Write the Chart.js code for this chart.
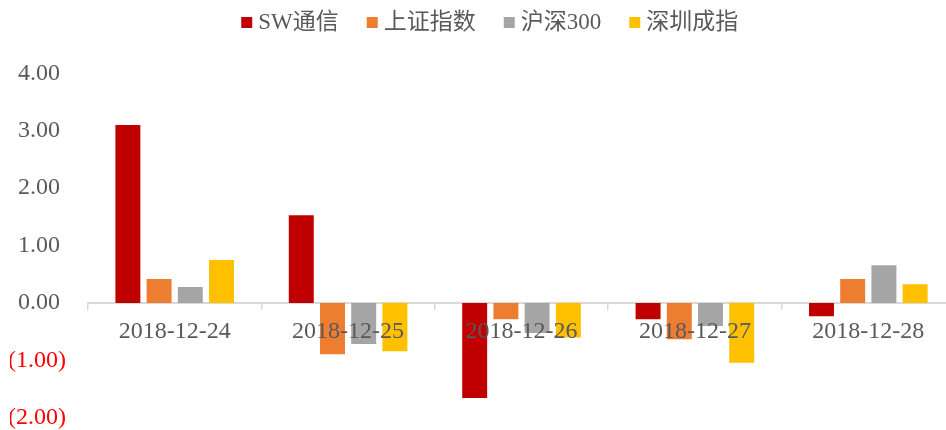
<!DOCTYPE html>
<html>
<head>
<meta charset="utf-8">
<script src="https://cdn.jsdelivr.net/npm/chart.js@4/dist/chart.umd.min.js"></script>
<style>
  html, body { margin: 0; padding: 0; background: #ffffff; overflow: hidden; width: 946px; height: 430px; }
  canvas { display: block; }
</style>
</head>
<body>
<canvas id="c" width="955" height="430"></canvas>
<script>
const categories = ['2018-12-24', '2018-12-25', '2018-12-26', '2018-12-27', '2018-12-28'];
const seriesNames = ['SW通信', '上证指数', '沪深300', '深圳成指'];
const swTongxin = [3.10, 1.53, -1.65, -0.28, -0.23];
const shangzheng = [0.42, -0.89, -0.28, -0.63, 0.42];
const hushen300 = [0.28, -0.71, -0.52, -0.40, 0.66];
const shenzhen = [0.75, -0.84, -0.60, -1.04, 0.33];
const yMin = -2, yMax = 4, yStep = 1;

const colors = ['#C00000', '#ED7D31', '#A5A5A5', '#FFC000'];
const serifFont = "'Liberation Serif', 'Times New Roman', 'Noto Sans CJK SC', serif";

const seriesValues = [swTongxin, shangzheng, hushen300, shenzhen];
const datasets = seriesNames.map((name, i) => ({
  label: name,
  data: seriesValues[i],
  backgroundColor: colors[i],
  borderWidth: 0,
  categoryPercentage: 0.72,
  barPercentage: 0.8
}));

const legendShift = {
  id: 'legendShift',
  afterLayout(chart) {
    if (chart.legend) { chart.legend.left += 10; chart.legend.right += 10; }
  }
};

new Chart(document.getElementById('c'), {
  type: 'bar',
  data: { labels: categories, datasets: datasets },
  plugins: [legendShift],
  options: {
    responsive: false,
    devicePixelRatio: 1,
    animation: false,
    layout: { padding: { top: -22.5, left: 10, right: 0, bottom: 12 } },
    plugins: {
      tooltip: { enabled: false },
      legend: {
        position: 'top',
        align: 'center',
        labels: {
          usePointStyle: true,
          pointStyle: 'rect',
          boxWidth: 0.01,
          boxHeight: 11,
          padding: 33.5,
          color: '#595959',
          font: { family: serifFont, size: 23 }
        }
      },
      title: {
        display: true,
        text: ' ',
        weight: 500,
        font: { size: 10, lineHeight: 1 },
        padding: { top: 0, bottom: 19.3 }
      }
    },
    scales: {
      x: {
        type: 'category',
        position: { y: 0 },
        grid: {
          display: true,
          offset: true,
          drawOnChartArea: false,
          drawTicks: true,
          tickLength: 6,
          color: '#D9D9D9',
          lineWidth: 1.5
        },
        border: { display: true, color: '#D9D9D9', width: 2 },
        ticks: {
          z: 1,
          color: '#595959',
          padding: 10.5,
          maxRotation: 0,
          autoSkip: false,
          font: { family: serifFont, size: 24, lineHeight: 1 }
        }
      },
      y: {
        position: 'left',
        min: yMin,
        max: yMax,
        grid: { display: false, drawTicks: true, tickLength: 22 },
        border: { display: false },
        afterFit: (scale) => { scale.width = 78; },
        ticks: {
          stepSize: yStep,
          padding: 0,
          font: { family: serifFont, size: 24, lineHeight: 1 },
          color: (ctx) => (ctx.tick && ctx.tick.value < 0) ? '#FF0000' : '#595959',
          callback: (v) => v < 0 ? '(' + Math.abs(v).toFixed(2) + ')' : v.toFixed(2) + ' '
        }
      }
    }
  }
});
</script>
</body>
</html>
